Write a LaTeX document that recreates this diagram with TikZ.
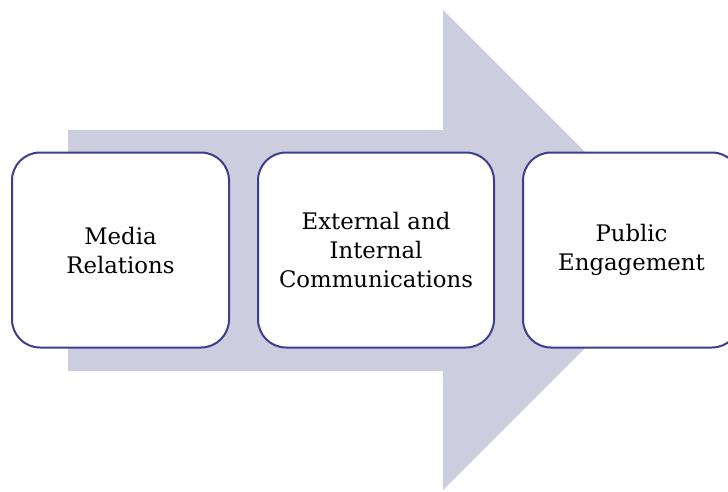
\documentclass[tikz,border=0pt]{standalone}
\usepackage{fontspec}
\setmainfont{DejaVu Serif}
\usetikzlibrary{positioning}
\definecolor{arrowgray}{RGB}{205, 205, 224}
\definecolor{boxblue}{RGB}{62, 62, 140}

\begin{document}
\begin{tikzpicture}[x=1pt, y=-1pt,
		stage/.style={draw=boxblue, line width=2pt, fill=white, rounded corners=28pt,
			minimum height=195pt, align=center, font=\fontsize{22.8}{29}\selectfont, inner sep=0pt}]
		\useasboundingbox (0,0) rectangle (728,491);
		\clip (0,0) rectangle (728,491);
		% big arrow behind the boxes
		\fill [arrowgray] (68,130)--(443,130)--(443,10)--(683,250)--(443,490)--(443,371)--(68,371)--cycle;
		
		\node [stage, minimum width=217pt] (media) at (120.5,250) {Media\\Relations};
		\node [stage, minimum width=236pt] (comms) at (376,250) {External and\\Internal\\Communications};
		\node [stage, minimum width=217pt] (public) at (631.5,250) {Public\\Engagement};
		
	\end{tikzpicture}
\end{document}
